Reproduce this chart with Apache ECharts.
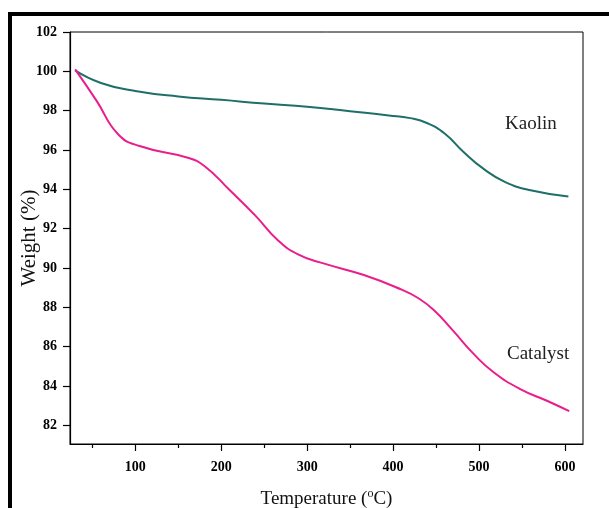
<!DOCTYPE html>
<html>
<head>
<meta charset="utf-8">
<script src="https://cdn.jsdelivr.net/npm/echarts@6/dist/echarts.min.js"></script>
<style>
html,body{margin:0;padding:0;background:#fff;}
#c{width:609px;height:508px;}
</style>
</head>
<body>
<div id="c"></div>
<script>
const kaolinTemp = [30,60,100,150,200,250,300,350,395,420,440,460,482,505,530,560,604];
const kaolinWeight = [100.05,99.41,99.0,98.72,98.55,98.36,98.2,97.97,97.76,97.62,97.36,96.84,95.9,95.05,94.38,93.95,93.63];
const catalystTemp = [30,55,80,105,160,180,210,240,265,290,320,366,410,428,447,470,494,517,548,579,605];
const catalystWeight = [100.1,98.5,96.8,96.2,95.62,95.2,93.95,92.65,91.45,90.68,90.22,89.64,88.9,88.5,87.88,86.8,85.62,84.7,83.84,83.25,82.72];
const xMajorTicks = [100,200,300,400,500,600];
const xMinorTicks = [50,150,250,350,450,550];
const yTicks = [82,84,86,88,90,92,94,96,98,100,102];

const zip = (a,b)=>a.map((v,i)=>[v,b[i]]);
const serif = '"Liberation Serif","Times New Roman",serif';
const chart = echarts.init(document.getElementById('c'), null, {renderer:'canvas'});
chart.setOption({
  backgroundColor:'#fff',
  animation:false,
  grid:{left:70,right:26,top:32,bottom:64,show:true,borderColor:'#000',borderWidth:1,backgroundColor:'transparent',containLabel:false,outerBoundsMode:'none'},
  xAxis:[{
    type:'value',min:24,max:621,
    axisLine:{show:true,onZero:false,lineStyle:{color:'#000',width:1.2}},
    axisTick:{show:true,inside:false,length:7,customValues:xMajorTicks,lineStyle:{color:'#000',width:1.2}},
    axisLabel:{customValues:xMajorTicks,color:'#000',fontFamily:serif,fontWeight:'bold',fontSize:14,margin:16},
    splitLine:{show:false},
    name:'Temperature ({sup|o}C)',nameLocation:'middle',nameGap:44,nameMoveOverlap:false,
    nameTextStyle:{color:'#111',fontFamily:serif,fontSize:19,rich:{sup:{fontFamily:serif,fontSize:12,verticalAlign:'top',padding:[0,0,10,0],color:'#111'}}}
  },{
    type:'value',min:24,max:621,position:'bottom',
    axisLine:{show:false},
    axisTick:{show:true,inside:false,length:4,customValues:xMinorTicks,lineStyle:{color:'#000',width:1.2}},
    axisLabel:{show:false},splitLine:{show:false}
  }],
  yAxis:{
    type:'value',min:81.05,max:102,
    axisLine:{show:true,onZero:false,lineStyle:{color:'#000',width:1.2}},
    axisTick:{show:true,inside:false,length:7,customValues:yTicks,lineStyle:{color:'#000',width:1.2}},
    axisLabel:{customValues:yTicks,color:'#000',fontFamily:serif,fontWeight:'bold',fontSize:14,margin:13},
    splitLine:{show:false},
    name:'Weight (%)',nameLocation:'middle',nameGap:30,nameMoveOverlap:false,
    nameTextStyle:{color:'#111',fontFamily:serif,fontSize:21}
  },
  series:[
    {name:'Kaolin',type:'line',data:zip(kaolinTemp,kaolinWeight),smooth:0.5,showSymbol:false,
     lineStyle:{color:'#1e6f6a',width:2}},
    {name:'Catalyst',type:'line',data:zip(catalystTemp,catalystWeight),smooth:0.5,showSymbol:false,
     lineStyle:{color:'#e91e8c',width:2}}
  ],
  graphic:[
    {type:'rect',shape:{x:8,y:12,width:601,height:4},style:{fill:'#000'}},
    {type:'rect',shape:{x:8,y:12,width:4,height:496},style:{fill:'#000'}},
    {type:'text',left:505,top:115,style:{text:'Kaolin',font:'19px '+serif,fill:'#222'}},
    {type:'text',left:507,top:345,style:{text:'Catalyst',font:'19px '+serif,fill:'#222'}}
  ]
});
</script>
</body>
</html>
